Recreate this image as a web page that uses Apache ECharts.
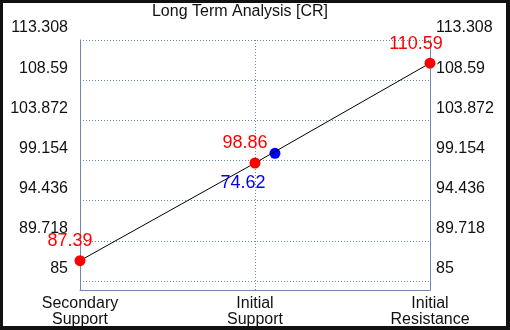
<!DOCTYPE html>
<html>
<head>
<meta charset="utf-8">
<script src="https://cdn.jsdelivr.net/npm/echarts@6/dist/echarts.min.js"></script>
<style>
  html, body { margin: 0; padding: 0; background: #111; }
  #main { position: absolute; left: 3px; top: 3px; width: 503px; height: 323px; background: #fff; }
</style>
</head>
<body>
<div id="main"></div>
<script>
// levels along the x axis
var categories = ['Secondary\nSupport', 'Initial\nSupport', 'Initial\nResistance'];
var levelValues = [87.39, 98.86, 110.59];
var labelShiftX = [-10, -10, -14];
// current price marker: [x position, y position], shown with its own label
var currentPoint = [1.114, 100.0];
var currentLabel = '74.62';
var yTicks = [85, 89.718, 94.436, 99.154, 103.872, 108.59, 113.308];
var yMin = 83.943, yMax = 113.308;

var axisColor = '#7088aa';
var font = 'Liberation Sans, Arial, sans-serif';

var chart = echarts.init(document.getElementById('main'));

function yAxisCfg(pos, margin, align) {
  return {
    type: 'value',
    position: pos,
    min: yMin,
    max: yMax,
    axisLine: { show: true, lineStyle: { color: axisColor, width: 1 } },
    axisTick: { show: false, customValues: yTicks },
    splitLine: { show: pos == 'left', lineStyle: { color: axisColor, type: [1, 2], width: 1 } },
    axisLabel: {
      customValues: yTicks,
      margin: margin,
      align: align,
      verticalAlign: 'bottom',
      padding: [0, 0, 4, 0],
      color: '#111',
      fontSize: 16,
      fontFamily: font,
      formatter: function (v) { return String(v); }
    }
  };
}

chart.setOption({
  animation: false,
  title: {
    text: 'Long Term Analysis [CR]',
    left: 232,
    top: -4,
    textAlign: 'center',
    textStyle: { fontSize: 16, fontWeight: 'normal', color: '#111', fontFamily: font }
  },
  grid: { left: 77, top: 37, width: 350, height: 250, outerBoundsMode: 'none' },
  xAxis: {
    type: 'value',
    min: 0,
    max: 2,
    interval: 1,
    axisLine: { show: true, lineStyle: { color: axisColor, width: 1 } },
    axisTick: { show: false },
    splitLine: { show: true, lineStyle: { color: axisColor, type: [1, 2], width: 1 } },
    axisLabel: {
      margin: 6,
      color: '#111',
      fontSize: 16,
      lineHeight: 16,
      fontFamily: font,
      formatter: function (v) { return categories[v] || ''; }
    }
  },
  yAxis: [yAxisCfg('left', 12, 'right'), yAxisCfg('right', 6, 'left')],
  series: [
    {
      type: 'line',
      data: levelValues.map(function (v, i) {
        return { value: [i, v], label: { offset: [labelShiftX[i], 0] } };
      }),
      lineStyle: { color: '#000', width: 1 },
      itemStyle: { color: '#ff0000' },
      symbol: 'circle',
      symbolSize: 11,
      label: {
        show: true,
        position: 'top',
        color: '#ff0000',
        fontSize: 18,
        fontFamily: font,
        formatter: function (p) { return p.value[1].toFixed(2); }
      }
    },
    {
      type: 'scatter',
      data: [currentPoint],
      symbol: 'circle',
      symbolSize: 11,
      itemStyle: { color: '#0000ff', opacity: 1 },
      label: {
        show: true,
        position: 'bottom',
        offset: [-32, 10],
        color: '#0000ff',
        fontSize: 18,
        fontFamily: font,
        formatter: function () { return currentLabel; }
      }
    }
  ]
});
</script>
</body>
</html>
